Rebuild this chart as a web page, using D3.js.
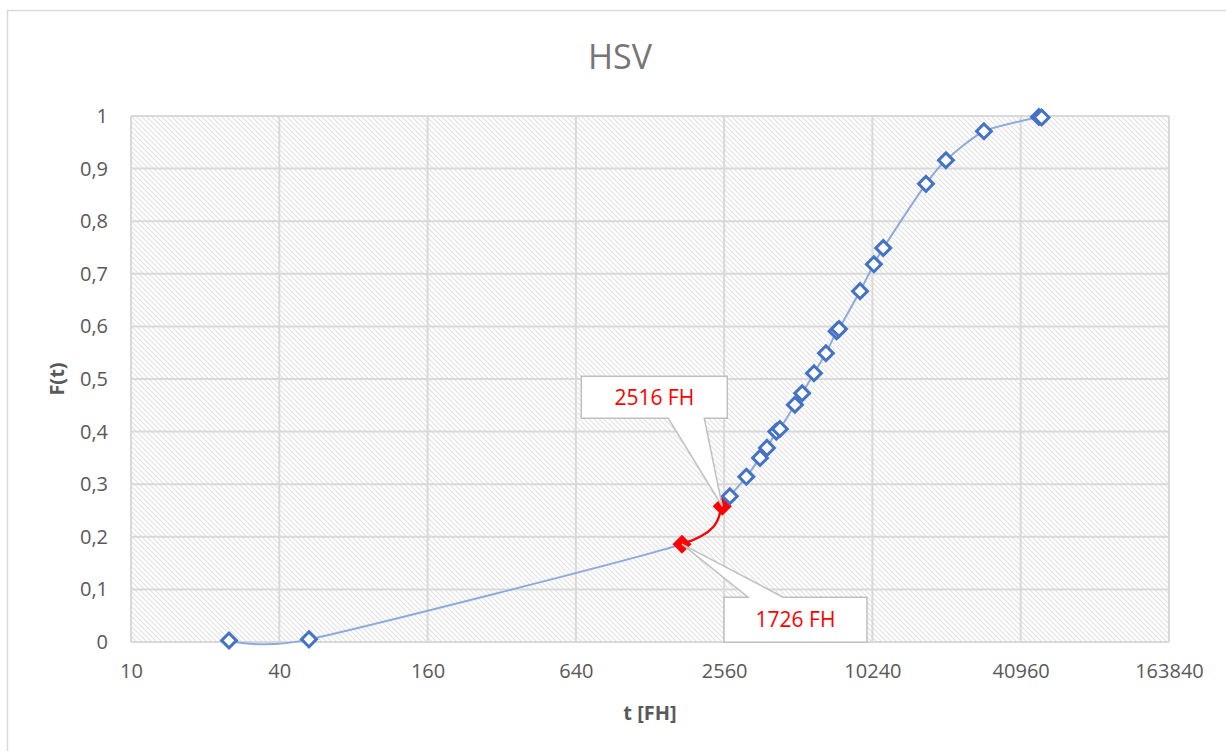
<!DOCTYPE html>
<html>
<head>
<meta charset="utf-8">
<script src="https://cdn.jsdelivr.net/npm/d3@7/dist/d3.min.js"></script>
<style>
  body { margin: 0; background: #fff; }
  svg { display: block; font-family: "Open Sans", "Noto Sans", sans-serif; }
</style>
</head>
<body>
<svg width="1226" height="751"></svg>
<script>
var svg = d3.select('svg');

// data (t in flight hours, F(t))
var tValues = [25, 52.8, 1726, 2516, 2700, 3150, 3580, 3820, 4170, 4310, 4960, 5310,
               5930, 6630, 7330, 7490, 9120, 10380, 11330, 16890, 20360, 29040, 48570, 49800];
var fValues = [0.003, 0.005, 0.186, 0.258, 0.277, 0.314, 0.350, 0.369, 0.400, 0.405, 0.451, 0.473,
               0.511, 0.549, 0.591, 0.595, 0.667, 0.718, 0.749, 0.871, 0.916, 0.971, 0.998, 0.997];
var highlightIdx = [2, 3];            // points drawn in red
var calloutTexts = ['1726 FH', '2516 FH'];
var xTicks = [10, 40, 160, 640, 2560, 10240, 40960, 163840];
var yTicks = [0, 0.1, 0.2, 0.3, 0.4, 0.5, 0.6, 0.7, 0.8, 0.9, 1];

var points = tValues.map(function(t, i){ return {t: t, f: fValues[i], i: i}; });

var plot = {left: 131, right: 1169, top: 116, bottom: 642};
var tension = 0.35;

var x = d3.scaleLog().base(4).domain([10, 163840]).range([plot.left, plot.right]);
var y = d3.scaleLinear().domain([0, 1]).range([plot.bottom, plot.top]);

// outer chart border
svg.append('rect')
  .attr('x', 7.5).attr('y', 10.5)
  .attr('width', 1230).attr('height', 750)
  .attr('fill', 'none')
  .attr('stroke', '#d9d9d9')
  .attr('stroke-width', 1.5);

// hatch pattern for plot area
var defs = svg.append('defs');
var pat = defs.append('pattern')
  .attr('id', 'hatch')
  .attr('patternUnits', 'userSpaceOnUse')
  .attr('width', 5).attr('height', 5);
pat.append('rect').attr('width', 5).attr('height', 5).attr('fill', '#fff');
pat.append('path')
  .attr('d', 'M-1,-1 L6,6 M-1,4 L1,6 M4,-1 L6,1')
  .attr('stroke', '#e2e2e2')
  .attr('stroke-width', 1.1);

svg.append('rect')
  .attr('x', plot.left).attr('y', plot.top)
  .attr('width', plot.right - plot.left).attr('height', plot.bottom - plot.top)
  .attr('fill', 'url(#hatch)');

// gridlines
svg.append('g')
  .selectAll('line').data(yTicks).enter().append('line')
  .attr('x1', plot.left).attr('x2', plot.right)
  .attr('y1', function(d){ return y(d); }).attr('y2', function(d){ return y(d); })
  .attr('stroke', '#d9d9d9').attr('stroke-width', 2);

svg.append('g')
  .selectAll('line').data(xTicks).enter().append('line')
  .attr('y1', plot.top).attr('y2', plot.bottom)
  .attr('x1', function(d){ return x(d); }).attr('x2', function(d){ return x(d); })
  .attr('stroke', '#d9d9d9').attr('stroke-width', 2);

// axes (labels only, Excel style)
var xAxis = svg.append('g')
  .attr('transform', 'translate(0,' + plot.bottom + ')')
  .call(d3.axisBottom(x).tickValues(xTicks).tickFormat(d3.format('d')).tickSize(0).tickPadding(22));
xAxis.select('.domain').remove();
xAxis.selectAll('text').attr('font-size', 20).attr('fill', '#595959').attr('font-family', '"Open Sans", sans-serif');

var yAxis = svg.append('g')
  .attr('transform', 'translate(' + (plot.left - 23) + ',0)')
  .call(d3.axisLeft(y).tickValues(yTicks).tickSize(0).tickPadding(0)
    .tickFormat(function(d){ return d3.format('.1~f')(d).replace('.', ','); }));
yAxis.select('.domain').remove();
yAxis.selectAll('text').attr('font-size', 20).attr('fill', '#595959').attr('font-family', '"Open Sans", sans-serif');

// title and axis titles
svg.append('text')
  .attr('x', 620).attr('y', 69)
  .attr('text-anchor', 'middle')
  .attr('font-size', 34)
  .attr('fill', '#767676')
  .text('HSV');

svg.append('text')
  .attr('x', 650).attr('y', 720)
  .attr('text-anchor', 'middle')
  .attr('font-size', 20).attr('font-weight', 'bold')
  .attr('fill', '#595959')
  .text('t [FH]');

svg.append('text')
  .attr('transform', 'translate(64,379) rotate(-90)')
  .attr('text-anchor', 'middle')
  .attr('font-size', 20).attr('font-weight', 'bold')
  .attr('fill', '#595959')
  .text('F(t)');

// smoothed line
var line = d3.line()
  .x(function(d){ return x(d.t); })
  .y(function(d){ return y(d.f); })
  .curve(d3.curveCardinal.tension(tension));

svg.append('path')
  .datum(points)
  .attr('d', line)
  .attr('fill', 'none')
  .attr('stroke', '#8eaadb')
  .attr('stroke-width', 2);

// red segment between the two highlighted points, same cardinal spline
function segmentPath(i){
  var p = function(k){
    var d = points[Math.max(0, Math.min(points.length - 1, k))];
    return [x(d.t), y(d.f)];
  };
  var k = (1 - tension) / 6;
  var p0 = p(i - 1), p1 = p(i), p2 = p(i + 1), p3 = p(i + 2);
  var path = d3.path();
  path.moveTo(p1[0], p1[1]);
  path.bezierCurveTo(
    p1[0] + (p2[0] - p0[0]) * k, p1[1] + (p2[1] - p0[1]) * k,
    p2[0] - (p3[0] - p1[0]) * k, p2[1] - (p3[1] - p1[1]) * k,
    p2[0], p2[1]);
  return path.toString();
}

svg.append('path')
  .attr('d', segmentPath(highlightIdx[0]))
  .attr('fill', 'none')
  .attr('stroke', '#ff0000')
  .attr('stroke-width', 2.2);

// markers
var diamond = d3.symbol().type(d3.symbolSquare).size(110);

svg.append('g')
  .selectAll('path').data(points).enter().append('path')
  .attr('d', diamond)
  .attr('transform', function(d){ return 'translate(' + x(d.t) + ',' + y(d.f) + ') rotate(45)'; })
  .attr('fill', function(d){ return highlightIdx.indexOf(d.i) >= 0 ? '#ff0000' : '#fff'; })
  .attr('stroke', function(d){ return highlightIdx.indexOf(d.i) >= 0 ? '#ff0000' : '#4472c4'; })
  .attr('stroke-width', 3);

// callouts: box offsets relative to the anchored point
var callouts = [
  {idx: highlightIdx[0], text: calloutTexts[0], box: [42, 185, 53, 98], tail: [66, 101], side: 'top'},
  {idx: highlightIdx[1], text: calloutTexts[1], box: [-141, 5, -130, -88], tail: [-54, -18], side: 'bottom'}
];

callouts.forEach(function(c){
  var d = points[c.idx];
  var px = x(d.t), py = y(d.f);
  var l = px + c.box[0], r = px + c.box[1], t = py + c.box[2], b = py + c.box[3];
  var a = px + c.tail[0], z = px + c.tail[1];
  var pts;
  if (c.side === 'top') {
    pts = [[l, t], [a, t], [px, py], [z, t], [r, t], [r, b], [l, b]];
  } else {
    pts = [[l, t], [r, t], [r, b], [z, b], [px, py], [a, b], [l, b]];
  }
  svg.append('path')
    .attr('d', 'M' + pts.map(function(q){ return q.join(','); }).join('L') + 'Z')
    .attr('fill', '#fff')
    .attr('stroke', '#bfbfbf')
    .attr('stroke-width', 1.5);
  svg.append('text')
    .attr('x', (l + r) / 2).attr('y', (t + b) / 2)
    .attr('dy', '0.36em')
    .attr('text-anchor', 'middle')
    .attr('font-size', 21)
    .attr('fill', '#ff0000')
    .text(c.text);
});
</script>
</body>
</html>
